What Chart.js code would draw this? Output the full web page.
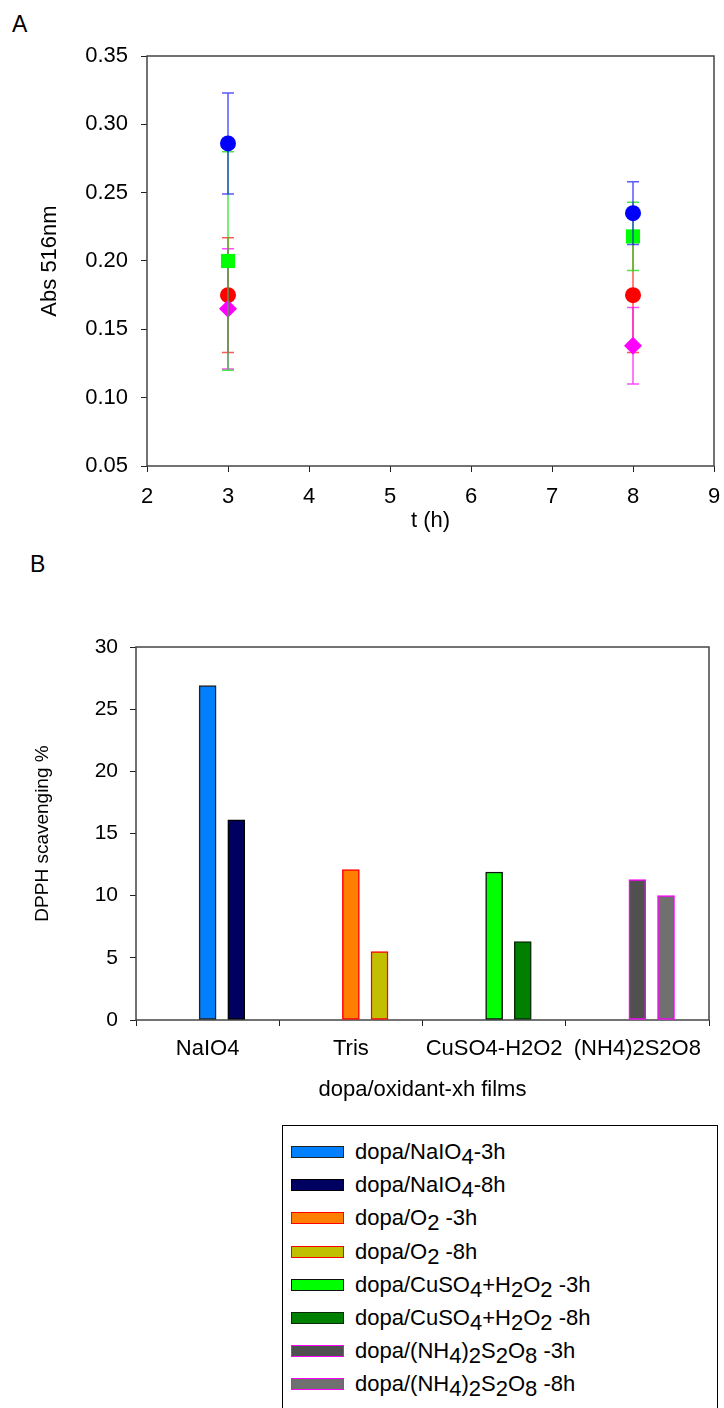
<!DOCTYPE html>
<html><head><meta charset="utf-8">
<script src="https://cdn.jsdelivr.net/npm/chart.js@4.4.0/dist/chart.umd.min.js"></script>
<style>
html,body{margin:0;padding:0;background:#fff;}
body{width:724px;height:1408px;position:relative;overflow:hidden;font-family:"Liberation Sans",Arial,sans-serif;color:#000;}
.panel{position:absolute;font-size:23px;line-height:23px;}
#wrapA{position:absolute;left:0;top:0;width:724px;height:545px;}
#wrapB{position:absolute;left:0;top:545px;width:724px;height:565px;}
#legend{position:absolute;left:282px;top:1125px;width:436px;height:300px;border:1px solid #000;box-sizing:border-box;}
.item{position:absolute;left:0;height:22px;width:100%;}
.sw{position:absolute;left:8px;top:5px;width:53px;height:12px;box-sizing:border-box;border:1.5px solid #000;}
.lt{position:absolute;left:72px;top:0;font-size:22px;line-height:22px;white-space:nowrap;}
.lt sub{font-size:22px;vertical-align:baseline;position:relative;top:5px;}
</style></head>
<body>
<div class="panel" style="left:12px;top:13px;">A</div>
<div class="panel" style="left:30px;top:553px;">B</div>
<div id="wrapA"><canvas id="chartA" width="724" height="545"></canvas></div>
<div id="wrapB"><canvas id="chartB" width="724" height="565"></canvas></div>
<div id="legend"></div>
<script>
// ---------- Panel A data ----------
const timesH = [3, 8];
const absNaIO4 = [0.286, 0.235];
const errNaIO4 = [0.037, 0.023];
const absCuSO4 = [0.200, 0.218];
const errCuSO4 = [0.080, 0.025];
const absNH4 = [0.165, 0.138];
const errNH4 = [0.044, 0.028];
const absO2 = [0.175, 0.175];
const errO2 = [0.042, 0.042];
const xTicksA = [2, 3, 4, 5, 6, 7, 8, 9];
const yTicksA = [0.05, 0.10, 0.15, 0.20, 0.25, 0.30, 0.35];

// ---------- Panel B data ----------
const categoriesB = ['NaIO4', 'Tris', 'CuSO4-H2O2', '(NH4)2S2O8'];
const dpph3h = [26.9, 12.1, 11.9, 11.3];
const dpph8h = [16.1, 5.5, 6.3, 10.0];
const labels3h = ['dopa/NaIO4-3h', 'dopa/O2 -3h', 'dopa/CuSO4+H2O2 -3h', 'dopa/(NH4)2S2O8 -3h'];
const labels8h = ['dopa/NaIO4-8h', 'dopa/O2 -8h', 'dopa/CuSO4+H2O2 -8h', 'dopa/(NH4)2S2O8 -8h'];
const yTicksB = [0, 5, 10, 15, 20, 25, 30];

const FONT = '"Liberation Sans", Arial, sans-serif';

const framePlugin = {
  id: 'frame',
  beforeDatasetsDraw(chart, args, opts) {
    const {left, top, right, bottom} = chart.chartArea;
    const ctx = chart.ctx;
    ctx.save();
    ctx.strokeStyle = opts.color || '#333';
    ctx.lineWidth = opts.width || 1;
    ctx.strokeRect(left, top, right - left, bottom - top);
    ctx.restore();
  }
};

const errorBarPlugin = {
  id: 'errbars',
  beforeDatasetDraw(chart, args) {
    const ds = chart.data.datasets[args.index];
    if (!ds.errors) return;
    const xs = chart.scales.x, ys = chart.scales.y, ctx = chart.ctx;
    ctx.save();
    ctx.strokeStyle = ds.errorColor;
    ctx.lineWidth = 1.5;
    ds.data.forEach((pt, i) => {
      const x = xs.getPixelForValue(pt.x);
      const yT = ys.getPixelForValue(pt.y + ds.errors[i]);
      const yB = ys.getPixelForValue(pt.y - ds.errors[i]);
      ctx.beginPath();
      ctx.moveTo(x, yT); ctx.lineTo(x, yB);
      ctx.moveTo(x - 6, yT); ctx.lineTo(x + 6, yT);
      ctx.moveTo(x - 6, yB); ctx.lineTo(x + 6, yB);
      ctx.stroke();
    });
    ctx.restore();
  }
};

function pts(vals) { return vals.map((v, i) => ({x: timesH[i], y: v})); }

function seriesA(label, vals, errs, color, errColor, style, radius) {
  return {
    label, data: pts(vals), errors: errs, errorColor: errColor,
    backgroundColor: color, borderColor: color, borderWidth: 0,
    pointStyle: style, pointRadius: radius, pointHoverRadius: radius, showLine: false
  };
}

new Chart(document.getElementById('chartA'), {
  type: 'scatter',
  data: {
    datasets: [
      seriesA('NaIO4', absNaIO4, errNaIO4, '#0000ff', 'rgba(0,0,255,0.65)', 'circle', 8),
      seriesA('CuSO4+H2O2', absCuSO4, errCuSO4, '#00ff00', 'rgba(0,220,0,0.7)', 'rect', 10),
      seriesA('(NH4)2S2O8', absNH4, errNH4, '#ff00ff', 'rgba(255,0,255,0.7)', 'rectRot', 9),
      seriesA('O2', absO2, errO2, '#ff0000', 'rgba(255,0,0,0.65)', 'circle', 8)
    ]
  },
  options: {
    responsive: false, animation: false, events: [],
    layout: {padding: {left: 0, right: 9, top: 56, bottom: 0}},
    plugins: {legend: {display: false}, tooltip: {enabled: false}, frame: {color: '#444', width: 1.5}},
    scales: {
      x: {
        type: 'linear', min: 2, max: 9,
        afterBuildTicks: s => { s.ticks = xTicksA.map(v => ({value: v})); },
        afterFit: s => { s.height = 79; s.paddingLeft = 0; s.paddingRight = 0; },
        grid: {drawOnChartArea: false, drawTicks: true, tickLength: 6, color: '#222'},
        border: {display: false},
        ticks: {color: '#000', font: {size: 22, family: FONT}, padding: 12, maxRotation: 0, callback: v => String(v)},
        title: {display: true, text: 't (h)', color: '#000', font: {size: 22, family: FONT}, padding: {top: 0, bottom: 11}}
      },
      y: {
        type: 'linear', min: 0.05, max: 0.35,
        afterBuildTicks: s => { s.ticks = yTicksA.map(v => ({value: v})); },
        afterFit: s => { s.width = 147; s.paddingTop = 0; s.paddingBottom = 0; },
        grid: {drawOnChartArea: false, drawTicks: true, tickLength: 6, color: '#222'},
        border: {display: false},
        ticks: {color: '#000', font: {size: 22, family: FONT}, padding: 13, callback: v => Number(v).toFixed(2)},
        title: {display: true, text: 'Abs 516nm', color: '#000', font: {size: 22, family: FONT}, padding: {top: 37, bottom: 0}}
      }
    }
  },
  plugins: [framePlugin, errorBarPlugin]
});

// ---------- Panel B ----------
const fill3h = ['#0080ff', '#ff8000', '#00ff00', '#505050'];
const fill8h = ['#000060', '#c0c000', '#008000', '#707070'];
const edge3h = ['#222222', '#ff0000', '#111111', '#ff00ff'];
const edge8h = ['#000000', '#ff0000', '#0a2a0a', '#ff00ff'];
const OFFSET_8H = 0.2;

const bDatasets = [];
categoriesB.forEach((c, i) => {
  bDatasets.push({label: labels3h[i], data: [{x: i, y: dpph3h[i]}], backgroundColor: fill3h[i], borderColor: edge3h[i]});
  bDatasets.push({label: labels8h[i], data: [{x: i + OFFSET_8H, y: dpph8h[i]}], backgroundColor: fill8h[i], borderColor: edge8h[i]});
});
bDatasets.forEach(d => { d.borderWidth = 1.5; d.borderSkipped = false; d.grouped = false; d.barThickness = 17; });

const chartB = new Chart(document.getElementById('chartB'), {
  type: 'bar',
  data: {datasets: bDatasets},
  options: {
    responsive: false, animation: false, events: [],
    layout: {padding: {left: 0, right: 15, top: 102, bottom: 0}},
    plugins: {legend: {display: false}, tooltip: {enabled: false}, frame: {color: '#444', width: 1.5}},
    scales: {
      x: {
        type: 'linear', min: -0.5, max: 3.5, offset: false,
        afterBuildTicks: s => { s.ticks = categoriesB.map((c, i) => ({value: i})); },
        afterFit: s => { s.height = 90; s.paddingLeft = 0; s.paddingRight = 0; },
        grid: {drawOnChartArea: false, drawTicks: true, tickLength: 6, color: '#222'},
        border: {display: false},
        ticks: {color: '#000', font: {size: 22, family: FONT}, padding: 10, maxRotation: 0, autoSkip: false,
                callback: v => categoriesB[Math.round(v)]},
        title: {display: true, text: 'dopa/oxidant-xh films', color: '#000', font: {size: 22, family: FONT}, padding: {top: 0, bottom: 7}}
      },
      y: {
        type: 'linear', min: 0, max: 30,
        afterBuildTicks: s => { s.ticks = yTicksB.map(v => ({value: v})); },
        afterFit: s => { s.width = 136; s.paddingTop = 0; s.paddingBottom = 0; },
        grid: {drawOnChartArea: false, drawTicks: true, tickLength: 6, color: '#222'},
        border: {display: false},
        ticks: {color: '#000', font: {size: 21, family: FONT}, padding: 12},
        title: {display: true, text: 'DPPH scavenging %', color: '#000', font: {size: 19, family: FONT}, padding: {top: 31, bottom: 0}}
      }
    }
  },
  plugins: [framePlugin]
});

// ---------- HTML legend built from chart B datasets ----------
const legendEl = document.getElementById('legend');
function subscripted(t) {
  return t.replace(/([A-Za-z\)])(\d)/g, '$1<sub>$2</sub>').replace(/<\/sub>(\d)/g, '</sub><sub>$1</sub>');
}
chartB.data.datasets.forEach((d, i) => {
  const item = document.createElement('div');
  item.className = 'item';
  item.style.top = (15 + i * 33.2) + 'px';
  const sw = document.createElement('div');
  sw.className = 'sw';
  sw.style.background = d.backgroundColor;
  sw.style.borderColor = d.borderColor;
  const lt = document.createElement('div');
  lt.className = 'lt';
  lt.innerHTML = subscripted(d.label);
  item.appendChild(sw); item.appendChild(lt);
  legendEl.appendChild(item);
});
</script>
</body></html>
